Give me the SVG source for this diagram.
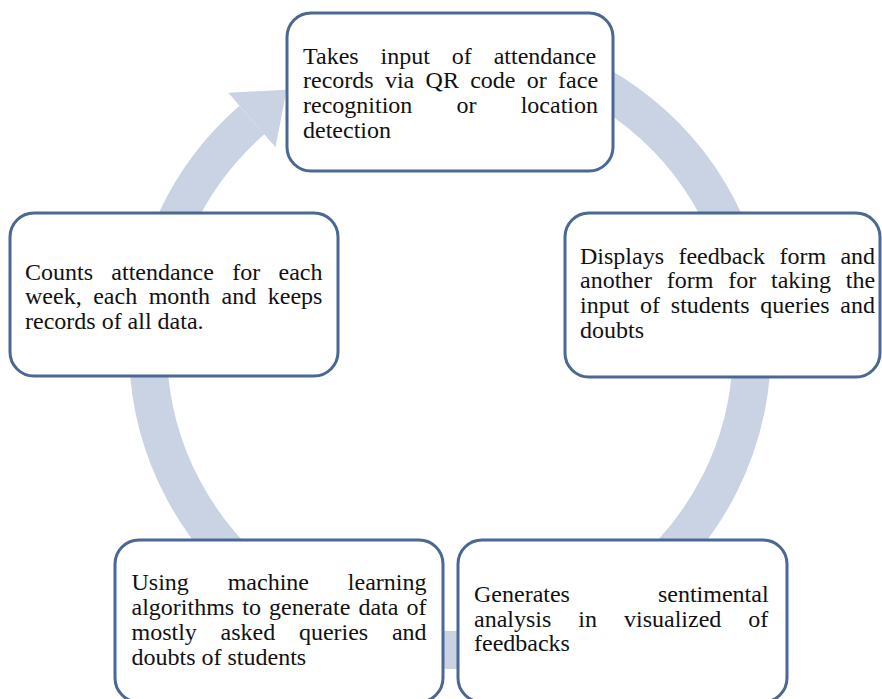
<svg xmlns="http://www.w3.org/2000/svg" width="882" height="699" viewBox="0 0 882 699">
<style>
.box{fill:#ffffff;stroke:#4a6893;stroke-width:3}
.t{font-family:"Liberation Serif","Times New Roman",serif;font-size:24px;fill:#111111}
.ring{fill:none;stroke:#cad3e4;stroke-width:38}
</style>
<rect width="882" height="699" fill="#ffffff"/>
<g id="connectors">
<path class="ring" d="M528.2,56.3 A302,302 0 1,1 251.9,120"/>
<polygon points="228.3,92.8 286.6,89.8 275.5,147.2" fill="#cad3e4"/>
</g>
<g id="node-top">
<rect class="box" x="287" y="13" width="326" height="158" rx="24"/>
<text class="t"><tspan x="303" y="63.5" word-spacing="15.9">Takes input of attendance</tspan><tspan x="303" y="88.3" word-spacing="5.3">records via QR code or face</tspan><tspan x="303" y="113" word-spacing="38.2">recognition or location</tspan><tspan x="303" y="137.8">detection</tspan></text>
</g>
<g id="node-right">
<rect class="box" x="565" y="213" width="315" height="164" rx="24"/>
<text class="t"><tspan x="580" y="263.5" word-spacing="8.4">Displays feedback form and</tspan><tspan x="580" y="288.3" word-spacing="8.8">another form for taking the</tspan><tspan x="580" y="313.2" word-spacing="4.75">input of students queries and</tspan><tspan x="580" y="338">doubts</tspan></text>
</g>
<g id="node-bottom-right">
<rect class="box" x="458" y="540" width="329" height="162" rx="24"/>
<text class="t"><tspan x="474" y="601.7" word-spacing="82">Generates sentimental</tspan><tspan x="474" y="626.5" word-spacing="21">analysis in visualized of</tspan><tspan x="474" y="651.3">feedbacks</tspan></text>
</g>
<g id="node-bottom-left">
<rect class="box" x="115" y="540" width="328" height="162" rx="24"/>
<text class="t"><tspan x="131.5" y="590" word-spacing="32.85">Using machine learning</tspan><tspan x="131.5" y="615" word-spacing="2.1">algorithms to generate data of</tspan><tspan x="131.5" y="640" word-spacing="17.7">mostly asked queries and</tspan><tspan x="131.5" y="665">doubts of students</tspan></text>
</g>
<g id="node-left">
<rect class="box" x="10" y="213" width="328" height="163" rx="24"/>
<text class="t"><tspan x="25" y="280" word-spacing="12.3">Counts attendance for each</tspan><tspan x="25" y="304.3" word-spacing="5.55">week, each month and keeps</tspan><tspan x="25" y="328.5">records of all data.</tspan></text>
</g>
</svg>
